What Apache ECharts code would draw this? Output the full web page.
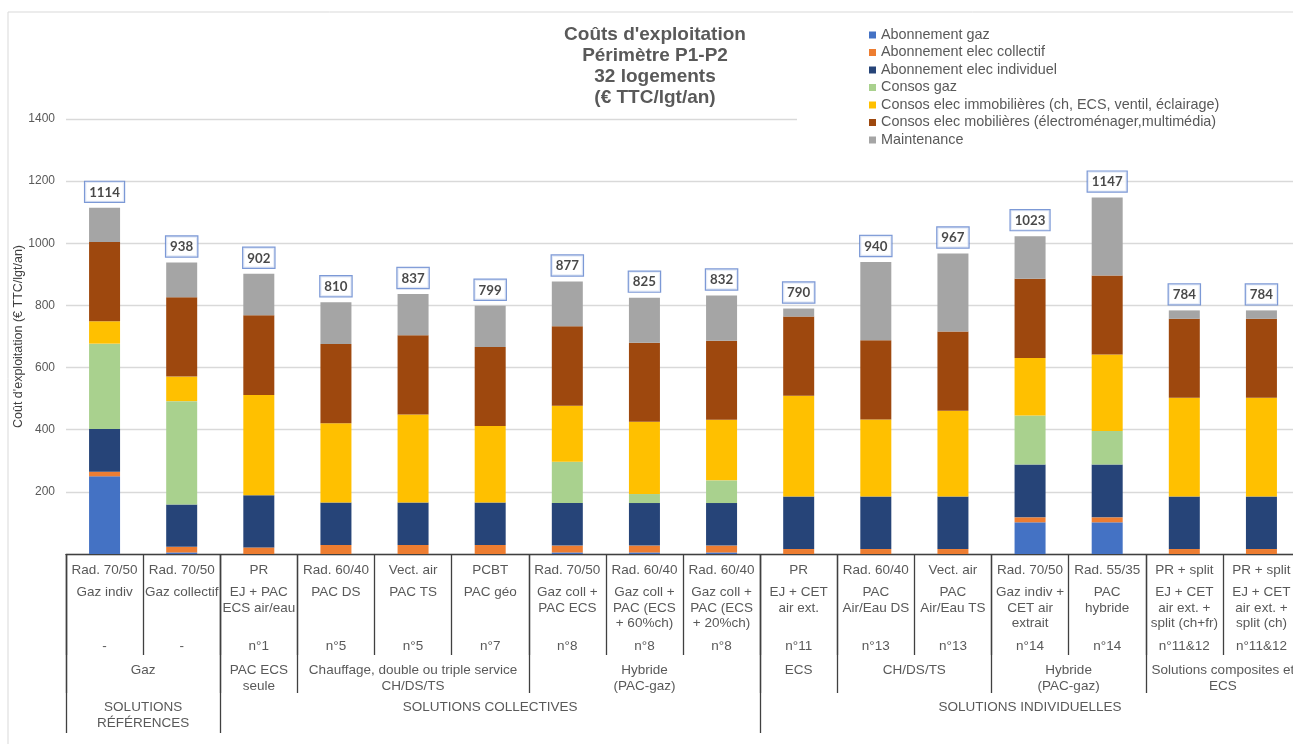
<!DOCTYPE html>
<html>
<head>
<meta charset="utf-8">
<script src="https://cdn.jsdelivr.net/npm/echarts@6/dist/echarts.min.js"></script>
<style>
  html, body { margin: 0; padding: 0; background: #fff; }
  #chart { width: 1293px; height: 744px; }
</style>
</head>
<body>
<div id="chart"></div>
<script>
// labels of the category table (3 rows per bar)
const rowTop = ['Rad. 70/50', 'Rad. 70/50', 'PR', 'Rad. 60/40', 'Vect. air', 'PCBT', 'Rad. 70/50', 'Rad. 60/40',
  'Rad. 60/40', 'PR', 'Rad. 60/40', 'Vect. air', 'Rad. 70/50', 'Rad. 55/35', 'PR + split', 'PR + split'];
const rowMid = ['Gaz indiv', 'Gaz collectif', 'EJ + PAC\nECS air/eau', 'PAC DS', 'PAC TS', 'PAC géo',
  'Gaz coll +\nPAC ECS', 'Gaz coll +\nPAC (ECS\n+ 60%ch)', 'Gaz coll +\nPAC (ECS\n+ 20%ch)', 'EJ + CET\nair ext.',
  'PAC\nAir/Eau DS', 'PAC\nAir/Eau TS', 'Gaz indiv +\nCET air\nextrait', 'PAC\nhybride',
  'EJ + CET\nair ext. +\nsplit (ch+fr)', 'EJ + CET\nair ext. +\nsplit (ch)'];
const rowNum = ['-', '-', 'n°1', 'n°5', 'n°5', 'n°7', 'n°8', 'n°8', 'n°8', 'n°11', 'n°13', 'n°13', 'n°14', 'n°14',
  'n°11&12', 'n°11&12'];

// grouping rows
const groupLabels = ['Gaz', 'PAC ECS\nseule', 'Chauffage, double ou triple service\nCH/DS/TS', 'Hybride\n(PAC-gaz)',
  'ECS', 'CH/DS/TS', 'Hybride\n(PAC-gaz)', 'Solutions composites et\nECS'];
const groupStarts = [0, 2, 3, 6, 9, 10, 12, 14];
const superLabels = ['SOLUTIONS\nRÉFÉRENCES', 'SOLUTIONS COLLECTIVES', 'SOLUTIONS INDIVIDUELLES'];
const superStarts = [0, 2, 9];

// values (€ TTC/lgt/an)
const aboGaz = [250, 5, 0, 0, 0, 0, 5, 5, 5, 0, 0, 0, 102, 102, 0, 0];
const aboElecColl = [15, 18, 21, 29, 29, 29, 22, 22, 22, 16, 16, 16, 16, 16, 16, 16];
const aboElecIndiv = [137, 136, 168, 137, 137, 137, 137, 137, 137, 169, 169, 169, 170, 170, 169, 169];
const consosGaz = [275, 333, 0, 0, 0, 0, 133, 29, 73, 0, 0, 0, 158, 108, 0, 0];
const consosElecImmo = [72, 79, 323, 255, 283, 246, 180, 233, 195, 324, 248, 276, 185, 246, 318, 318];
const consosElecMob = [255, 255, 256, 255, 255, 254, 256, 254, 254, 255, 255, 255, 255, 254, 254, 254];
const maintenance = [110, 112, 134, 134, 133, 133, 144, 145, 146, 26, 252, 251, 137, 251, 27, 27];

const yTicks = [0, 200, 400, 600, 800, 1000, 1200, 1400];

const FONT = '"Liberation Sans", Arial, sans-serif';
const TXT = '#595959';
const LINE = '#404040';

const seriesDefs = [
  { name: 'Abonnement gaz', data: aboGaz, color: '#4472C4' },
  { name: 'Abonnement elec collectif', data: aboElecColl, color: '#ED7D31' },
  { name: 'Abonnement elec individuel', data: aboElecIndiv, color: '#264478' },
  { name: 'Consos gaz', data: consosGaz, color: '#A9D18E' },
  { name: 'Consos elec immobilières (ch, ECS, ventil, éclairage)', data: consosElecImmo, color: '#FFC000' },
  { name: 'Consos elec mobilières (électroménager,multimédia)', data: consosElecMob, color: '#9E480E' },
  { name: 'Maintenance', data: maintenance, color: '#A5A5A5' }
];

const totals = rowTop.map((_, i) => seriesDefs.reduce((s, d) => s + d.data[i], 0));
const cats = rowTop.map((_, i) => String(i));

const chart = echarts.init(document.getElementById('chart'));

// an extra invisible x axis only used for a row of labels or longer separators
function extraAxis(opts) {
  return Object.assign({
    type: 'category', data: cats, gridIndex: 0, position: 'bottom', offset: 0,
    axisLine: { show: false }, axisTick: { show: false }, splitLine: { show: false },
    axisLabel: { show: false }
  }, opts);
}

function labelStyle(margin, arr) {
  return {
    show: true, interval: 0, margin: margin, formatter: (v, i) => arr[i],
    fontFamily: FONT, fontSize: 13.5, color: TXT, lineHeight: 15.5
  };
}

const option = {
  animation: false,
  backgroundColor: '#fff',
  title: {
    text: "Coûts d'exploitation\nPérimètre P1-P2\n32 logements\n(€ TTC/lgt/an)",
    left: 650, top: 19, textAlign: 'center',
    textStyle: { fontFamily: FONT, fontSize: 19, fontWeight: 'bold', color: TXT, lineHeight: 21 }
  },
  legend: {
    orient: 'vertical', left: 797, top: 24, padding: [4, 200, 8, 72],
    backgroundColor: '#fff', icon: 'rect', itemWidth: 7, itemHeight: 7, itemGap: 3.5,
    textStyle: { fontFamily: FONT, fontSize: 14.4, color: TXT, lineHeight: 13.5 },
    data: seriesDefs.map(d => d.name)
  },
  grid: { left: 66, top: 119, width: 1234, height: 435, outerBoundsMode: 'none', containLabel: false },
  xAxis: [
    {
      type: 'category', data: cats, position: 'bottom',
      axisLine: { show: true, lineStyle: { color: LINE, width: 1.3 } },
      axisTick: { show: true, interval: 0, length: 101, lineStyle: { color: LINE, width: 1.3 } },
      axisLabel: labelStyle(9, rowTop)
    },
    extraAxis({ axisLabel: labelStyle(31, rowMid) }),
    extraAxis({ axisLabel: labelStyle(85, rowNum) }),
    extraAxis({
      axisTick: { show: true, length: 139, interval: (i) => groupStarts.includes(i),
        lineStyle: { color: LINE, width: 1.3 } }
    }),
    extraAxis({
      axisTick: { show: true, length: 179, interval: (i) => superStarts.includes(i),
        lineStyle: { color: LINE, width: 1.3 } }
    })
  ],
  yAxis: {
    type: 'value', min: yTicks[0], max: yTicks[yTicks.length - 1], interval: 200,
    name: "Coût d'exploitation (€ TTC/lgt/an)", nameLocation: 'middle', nameGap: 41,
    nameMoveOverlap: false,
    nameTextStyle: { fontFamily: FONT, fontSize: 12.5, color: LINE },
    axisLine: { show: false }, axisTick: { show: false },
    axisLabel: { showMinLabel: false, margin: 11, fontFamily: FONT, fontSize: 12, color: TXT,
      formatter: (v) => String(v) },
    splitLine: { lineStyle: { color: '#d9d9d9', width: 1.3 } }
  },
  series: seriesDefs.map(d => ({
    name: d.name, type: 'bar', stack: 'total', barWidth: 31,
    itemStyle: { color: d.color }, data: d.data
  })).concat([{
    name: 'Total', type: 'scatter', symbolSize: 0, data: totals,
    itemStyle: { color: 'transparent' },
    label: {
      show: true, position: 'top', distance: 6, formatter: (p) => p.value,
      fontFamily: 'Lato, "Liberation Sans", sans-serif', fontWeight: 'bold', fontSize: 13.3, color: '#1a1a1a',
      backgroundColor: '#fff', borderColor: '#5b80cc', borderWidth: 1.2, padding: [4, 4, 3, 4]
    }
  }])
};

chart.setOption(option);

// group rows under the category table, centred on their categories
const base = chart.convertToPixel({ yAxisIndex: 0 }, 0);
function spanCenter(a, b) {
  return (chart.convertToPixel({ xAxisIndex: 0 }, a) + chart.convertToPixel({ xAxisIndex: 0 }, b)) / 2;
}
function spans(starts) {
  return starts.map((s, k) => [s, k + 1 < starts.length ? starts[k + 1] - 1 : cats.length - 1]);
}
const graphics = [{
  type: 'rect', shape: { x: 8, y: 12, width: 1400, height: 800 },
  style: { fill: 'none', stroke: '#d9d9d9', lineWidth: 1 }, silent: true, z: -1
}];
spans(groupStarts).forEach(([a, b], k) => {
  graphics.push({
    type: 'text', x: spanCenter(a, b), y: base + 108,
    style: { text: groupLabels[k], align: 'center', verticalAlign: 'top', font: '13.5px ' + FONT,
      fill: TXT, lineHeight: 16 }
  });
});
spans(superStarts).forEach(([a, b], k) => {
  graphics.push({
    type: 'text', x: spanCenter(a, b), y: base + 146,
    style: { text: superLabels[k], align: 'center', verticalAlign: 'top', font: '13.5px ' + FONT,
      fill: TXT, lineHeight: 15.5 }
  });
});
chart.setOption({ graphic: graphics });
</script>
</body>
</html>
